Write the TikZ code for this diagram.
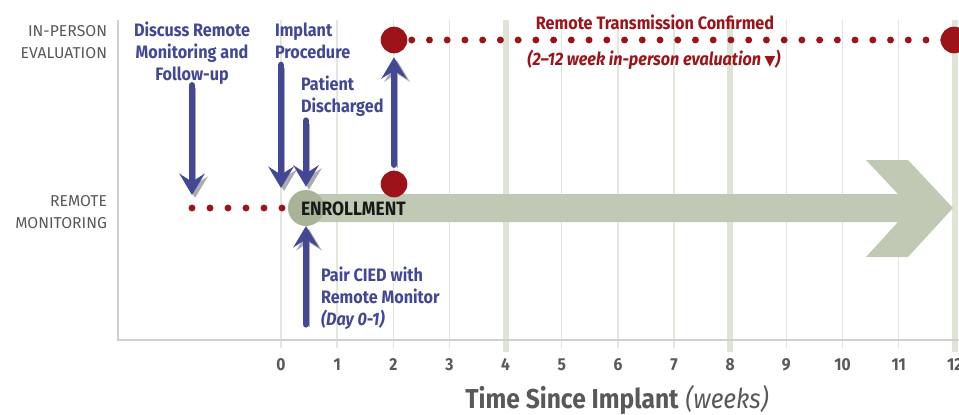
\documentclass[tikz,border=0pt]{standalone}
\usepackage{fontspec}
\setmainfont{Fira Sans}
\newfontfamily\condfont{Fira Sans}[FakeStretch=0.9]
\newfontfamily\symfont{DejaVu Sans}
\usepackage{tikz}
\usetikzlibrary{arrows.meta,positioning,calc}
\definecolor{monitorblue}{RGB}{67,72,150}
\definecolor{shadowgray}{RGB}{172,172,176}
\definecolor{evalred}{RGB}{156,20,26}
\definecolor{enrollgreen}{RGB}{191,201,179}
\definecolor{enrolldark}{RGB}{168,180,150}
\definecolor{gridthin}{RGB}{228,231,222}
\definecolor{gridthick}{RGB}{222,228,214}
\definecolor{labelgray}{RGB}{88,89,91}
\definecolor{framegray}{RGB}{208,208,208}

\begin{document}
\begin{tikzpicture}[
    x=0.75pt, y=-0.75pt,
    every node/.style={inner sep=0pt,outer sep=0pt},
    rowlabel/.style={font=\fontsize{11.8}{16.5}\selectfont,text=labelgray,align=right,anchor=base east},
    bluelabel/.style={font=\condfont\bfseries\fontsize{13.5}{16.5}\selectfont,text=monitorblue,align=left,anchor=base west},
    redlabel/.style={font=\condfont\bfseries\fontsize{13.5}{16}\selectfont,text=evalred,anchor=base},
    weeklabel/.style={font=\condfont\bfseries\fontsize{13}{15}\selectfont,text=labelgray,anchor=base},
    reddot/.style={circle,fill=evalred,minimum size=20pt},
    dotline/.style={evalred,line width=5.2pt,line cap=round,dash pattern=on 0pt off 13.3pt},
    event/.style={monitorblue,line width=4.9pt,line cap=round,
        -{Stealth[length=16pt,width=19pt,inset=6pt]},
        preaction={draw=shadowgray,transform canvas={shift={(2.25pt,-2.25pt)}}}}
]
\useasboundingbox (0,0) rectangle (959,414);
\fill[white] (0,0) rectangle (959,414);

% Grid and frame
\foreach \w in {0,...,12}
    \draw[gridthin,line width=1.1pt] ({281+56.15*\w},20) -- ({281+56.15*\w},348);
\foreach \w in {4,8,12}
    \draw[gridthick,line width=4.5pt] ({281+56.15*\w},20) -- ({281+56.15*\w},352);
\draw[framegray,line width=1.1pt] (118,20) -- (118,340) -- (959,340);
\foreach \w in {0,...,12}
    \node[weeklabel] (tick\w) at ({281+56.15*\w},370) {\w};
\node[anchor=base,text=labelgray,font=\condfont\fontsize{20.5}{24}\selectfont] (axis) at (617,408)
    {\textbf{Time Since Implant} \textit{(weeks)}};

% Row labels
\node[rowlabel] (inperson) at (107,58) {IN-PERSON\\EVALUATION};
\node[rowlabel] (remote) at (107,228) {REMOTE\\MONITORING};

% Enrollment arrow
\fill[enrollgreen] (306,194) -- (898,194) -- (866,160) -- (908,160) -- (953,208)
    -- (908,257) -- (866,257) -- (898,222) -- (306,222) -- cycle;
\coordinate (dotstart) at (192,208);
\node[circle,fill=enrolldark,minimum size=27pt] (enroll) at (306,208) {};
\draw[dotline,dash pattern=on 0pt off 13.5pt] (dotstart) -- (enroll.west);
\node[anchor=base west,font=\condfont\bfseries\fontsize{14.5}{16}\selectfont,text=black!90] (enrolltext) at (301,215) {ENROLLMENT};

% In-person evaluation window
\draw[dotline] (394,40) -- (954,40);
\node[reddot] (rchigh) at (394,40) {};
\node[reddot] (rcend) at (954,40) {};
\node[reddot] (rclow) at (394,184) {};
\node[redlabel] (confirmed) at (655,29) {Remote Transmission Confirmed};
\node[redlabel,font=\condfont\bfseries\itshape\fontsize{13.5}{16}\selectfont] (window) at (654,65)
    {(2–12 week in-person evaluation {\symfont\upshape\fontsize{10.5}{12}\selectfont ▼})};

% Events
\node[bluelabel,align=center,anchor=base] (discuss) at (192,80) {Discuss Remote\\Monitoring and\\Follow-up};
\node[bluelabel] (implant) at (275,58) {Implant\\Procedure};
\node[bluelabel] (discharged) at (301,112) {Patient\\Discharged};
\node[bluelabel] (pair) at (321,325) {Pair CIED with\\Remote Monitor\\\textit{(Day 0-1)}};
\coordinate (implanttip) at (281,188);

\draw[event,shorten <=1pt,shorten >=9.75pt] (discuss.south) -- (dotstart);
\draw[event,shorten <=5pt] (implanttip |- implant.south) -- (implanttip);
\draw[event,shorten <=3.5pt,shorten >=2.5pt] (discharged.south -| enroll) -- (enroll.north);
\draw[event,shorten <=4.5pt,shorten >=3pt] (rclow) -- (rchigh);
\draw[event,shorten <=3.5pt] (pair.south -| enroll) -- (enroll.south);

\end{tikzpicture}
\end{document}
